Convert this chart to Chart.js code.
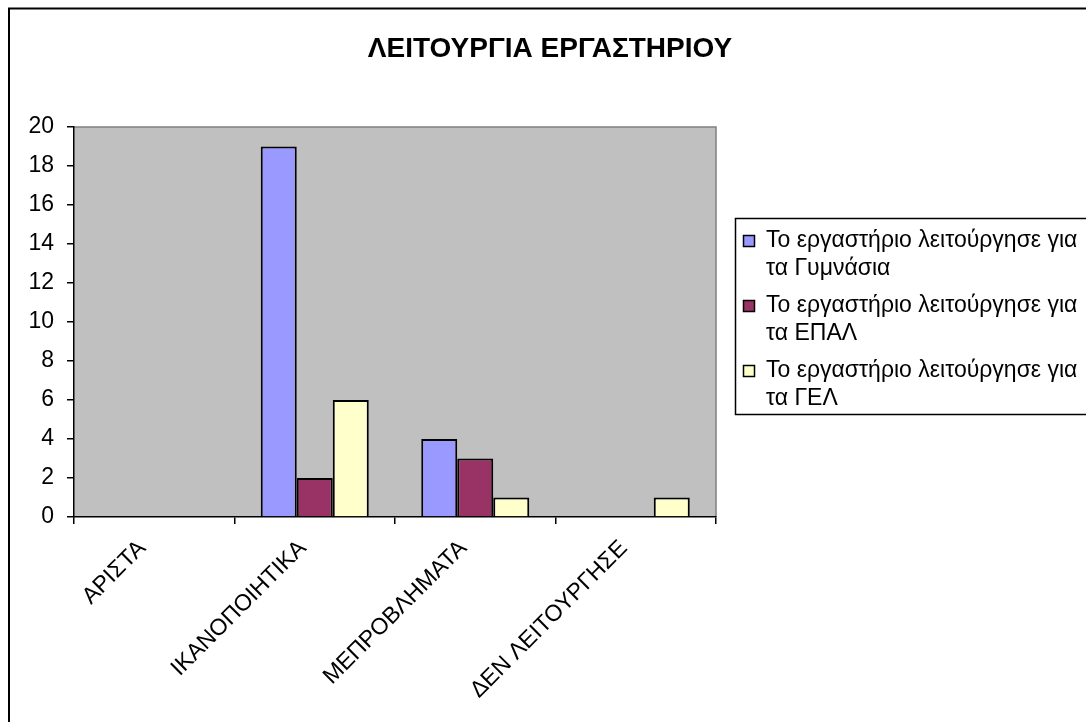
<!DOCTYPE html>
<html>
<head>
<meta charset="utf-8">
<script src="https://cdn.jsdelivr.net/npm/chart.js@4.4.1/dist/chart.umd.min.js"></script>
<style>
  html, body { margin: 0; padding: 0; background: #fff; }
  #wrap { width: 1086px; height: 722px; }
</style>
</head>
<body>
<div id="wrap"><canvas id="chart" width="1086" height="722"></canvas></div>
<script>
// Δεδομένα του γραφήματος
const chartTitle = 'ΛΕΙΤΟΥΡΓΙΑ ΕΡΓΑΣΤΗΡΙΟΥ';
const categories = ['ΑΡΙΣΤΑ', 'ΙΚΑΝΟΠΟΙΗΤΙΚΑ', 'ΜΕΠΡΟΒΛΗΜΑΤΑ', 'ΔΕΝ ΛΕΙΤΟΥΡΓΗΣΕ'];
const seriesNames = [
    'Το εργαστήριο λειτούργησε για τα Γυμνάσια',
    'Το εργαστήριο λειτούργησε για τα ΕΠΑΛ',
    'Το εργαστήριο λειτούργησε για τα ΓΕΛ'
];
const gymnasia = [0, 19, 4, 0];
const epal = [0, 2, 3, 0];
const gel = [0, 6, 1, 1];
const yMin = 0;
const yMax = 20;
const yStep = 2;

const FONT = "'Liberation Sans', Arial, sans-serif";
const seriesColors = ['#9999FF', '#993366', '#FFFFCC'];

// σπάσιμο κειμένου σε γραμμές
function wrapText(ctx, text, maxWidth) {
    const words = text.split(' ');
    const lines = [];
    let line = '';
    words.forEach(w => {
        const test = line ? line + ' ' + w : w;
        if (ctx.measureText(test).width > maxWidth && line) {
            lines.push(line);
            line = w;
        } else {
            line = test;
        }
    });
    if (line) lines.push(line);
    return lines;
}

// φόντο, πλαίσιο, τίτλος και υπόμνημα
const excelFrame = {
    id: 'excelFrame',
    beforeDraw(chart) {
        const ctx = chart.ctx;
        const a = chart.chartArea;
        ctx.save();
        ctx.fillStyle = '#ffffff';
        ctx.fillRect(0, 0, chart.width, chart.height);
        ctx.fillStyle = '#c0c0c0';
        ctx.fillRect(a.left, a.top, a.right - a.left, a.bottom - a.top);
        ctx.strokeStyle = '#808080';
        ctx.lineWidth = 1.5;
        ctx.beginPath();
        ctx.moveTo(a.left, a.top);
        ctx.lineTo(a.right, a.top);
        ctx.lineTo(a.right, a.bottom);
        ctx.stroke();
        ctx.restore();
    },
    afterDraw(chart) {
        const ctx = chart.ctx;
        ctx.save();

        // εξωτερικό πλαίσιο
        ctx.strokeStyle = '#000';
        ctx.lineWidth = 2;
        ctx.beginPath();
        ctx.moveTo(9, chart.height);
        ctx.lineTo(9, 8.5);
        ctx.lineTo(chart.width, 8.5);
        ctx.stroke();

        // τίτλος
        ctx.fillStyle = '#000';
        ctx.font = 'bold 28px ' + FONT;
        ctx.textAlign = 'center';
        ctx.textBaseline = 'middle';
        ctx.fillText(chartTitle, 550, 49);

        // υπόμνημα
        ctx.lineWidth = 1.5;
        ctx.strokeRect(735.5, 218.5, 400, 196);
        ctx.font = '23px ' + FONT;
        ctx.textAlign = 'left';
        chart.data.datasets.forEach((ds, i) => {
            const y0 = 241 + i * 65;
            ctx.fillStyle = ds.backgroundColor;
            ctx.fillRect(743, y0 - 6, 12, 12);
            ctx.lineWidth = 1.5;
            ctx.strokeStyle = '#000';
            ctx.strokeRect(743.5, y0 - 5.5, 11, 11);
            ctx.fillStyle = '#000';
            wrapText(ctx, ds.label, 320).forEach((t, j) => {
                ctx.fillText(t, 766, y0 + j * 28);
            });
        });
        ctx.restore();
    }
};

const ctx = document.getElementById('chart').getContext('2d');
const chart = new Chart(ctx, {
    type: 'bar',
    data: {
        labels: categories,
        datasets: [gymnasia, epal, gel].map((vals, i) => ({
            label: seriesNames[i],
            data: vals,
            backgroundColor: seriesColors[i],
            borderColor: '#000',
            borderWidth: 2,
            categoryPercentage: 0.673,
            barPercentage: 1.0
        }))
    },
    options: {
        responsive: false,
        animation: false,
        layout: { padding: { top: 127, right: 370, left: 0, bottom: 0 } },
        plugins: {
            legend: { display: false },
            title: { display: false },
            tooltip: { enabled: false }
        },
        scales: {
            x: {
                offset: true,
                grid: { offset: true, drawOnChartArea: false, drawTicks: true, tickLength: 7, color: '#000', lineWidth: 1.5 },
                border: { display: true, color: '#000', width: 1.5 },
                ticks: {
                    autoSkip: false,
                    minRotation: 45,
                    maxRotation: 45,
                    padding: 11,
                    labelOffset: -12,
                    color: '#000',
                    font: { family: FONT, size: 23 }
                },
                afterFit(scale) { scale.height = 205; }
            },
            y: {
                min: yMin,
                max: yMax,
                grid: { drawOnChartArea: false, drawTicks: true, tickLength: 7, color: '#000', lineWidth: 1.5 },
                border: { display: true, color: '#000', width: 1.5 },
                ticks: {
                    stepSize: yStep,
                    padding: 13,
                    color: '#000',
                    font: { family: FONT, size: 23 }
                },
                afterFit(scale) { scale.width = 74; }
            }
        }
    },
    plugins: [excelFrame]
});
</script>
</body>
</html>
